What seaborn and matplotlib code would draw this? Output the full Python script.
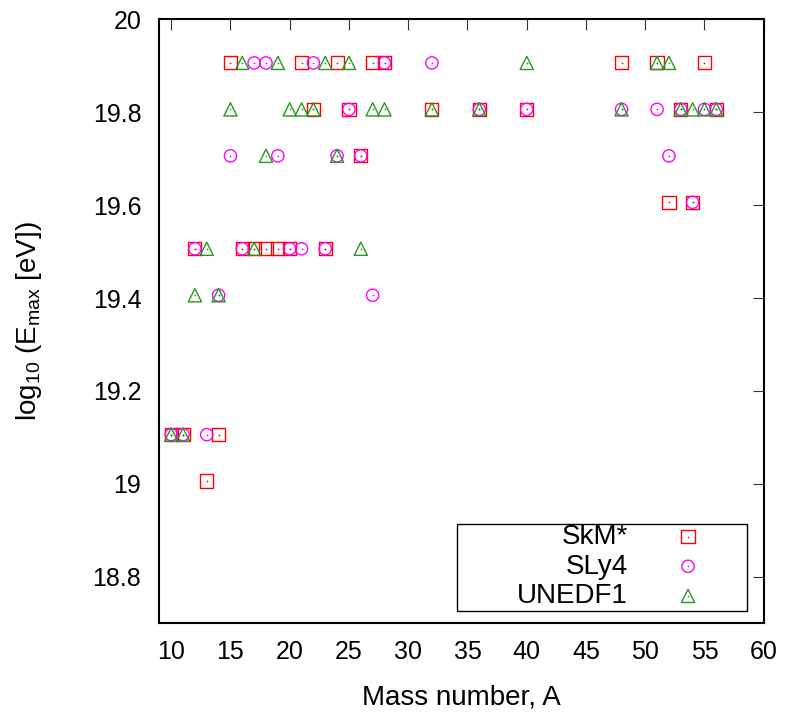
import matplotlib
matplotlib.use("Agg")
import matplotlib.pyplot as plt
import matplotlib.patches as patches
from matplotlib.ticker import FuncFormatter
from matplotlib.legend_handler import HandlerTuple
import pandas as pd
import seaborn as sns

# mass numbers and log10(Emax) for the three Skyrme forces
mass_A = [10, 11, 12, 13, 14, 15, 16, 17, 18, 19, 20, 21, 22, 23, 24, 25, 26, 27, 28,
          32, 36, 40, 48, 51, 52, 53, 54, 55, 56]
skm = [19.106, 19.106, 19.506, 19.006, 19.106, 19.906, 19.506, 19.506, 19.506, 19.506,
       19.506, 19.906, 19.806, 19.506, 19.906, 19.806, 19.706, 19.906, 19.906, 19.806,
       19.806, 19.806, 19.906, 19.906, 19.606, 19.806, 19.606, 19.906, 19.806]
sly4 = [19.106, 19.106, 19.506, 19.106, 19.406, 19.706, 19.506, 19.906, 19.906, 19.706,
        19.506, 19.506, 19.906, 19.506, 19.706, 19.806, 19.706, 19.406, 19.906, 19.906,
        19.806, 19.806, 19.806, 19.806, 19.706, 19.806, 19.606, 19.806, 19.806]
unedf1 = [19.106, 19.106, 19.406, 19.506, 19.406, 19.806, 19.906, 19.506, 19.706, 19.906,
          19.806, 19.806, 19.806, 19.906, 19.706, 19.906, 19.506, 19.806, 19.806, 19.806,
          19.806, 19.906, 19.806, 19.906, 19.906, 19.806, 19.806, 19.806, 19.806]

series_names = ["SkM*", "SLy4", "UNEDF1"]
colors = ["#ff0000", "#ff00ff", "#229922"]
markers = ["s", "o", "^"]
sizes = [90, 78, 90]

df = pd.DataFrame({"A": mass_A * 3,
                   "E": skm + sly4 + unedf1,
                   "model": sum([[n] * len(mass_A) for n in series_names], [])})

sns.set_style("white")
plt.rcParams["font.family"] = ["Liberation Sans", "DejaVu Sans"]
plt.rcParams["mathtext.fontset"] = "custom"
plt.rcParams["mathtext.rm"] = "Liberation Sans"
for k in ["text.color", "axes.labelcolor", "xtick.labelcolor", "ytick.labelcolor"]:
    plt.rcParams[k] = "black"

fig = plt.figure(figsize=(7.88, 7.15), dpi=100)
ax = fig.add_axes([0.2022, 0.1283, 0.767, 0.8448])

handles = []
for name, col, mk, sz in zip(series_names, colors, markers, sizes):
    d = df[df["model"] == name]
    sns.scatterplot(data=d, x="A", y="E", marker=mk, s=sz, facecolor="none",
                    edgecolor=col, linewidth=1.0, ax=ax, zorder=3)
    h_open = ax.collections[-1]
    sns.scatterplot(data=d, x="A", y="E", marker="o", s=1.5, color=col,
                    edgecolor=col, linewidth=0, ax=ax, zorder=4)
    h_dot = ax.collections[-1]
    handles.append((h_open, h_dot))

ax.set_xlim(9, 60)
ax.set_ylim(18.7, 20)
ax.set_xticks(range(10, 61, 5))
ax.set_yticks([18.8, 19.0, 19.2, 19.4, 19.6, 19.8, 20.0])
ax.yaxis.set_major_formatter(FuncFormatter(lambda v, p: "%g" % round(v, 2)))

ax.tick_params(direction="in", length=8, width=0.8, color="#333333",
               top=True, right=True, labelsize=18)
ax.tick_params(axis="y", pad=13)
ax.tick_params(axis="x", pad=12)
for sp in ax.spines.values():
    sp.set_visible(True)
    sp.set_color("black")
    sp.set_linewidth(1.5)

ax.set_xlabel("Mass number, A", fontsize=20)
ax.set_ylabel(r"log$_{\mathregular{10}}$ (E$_{\mathregular{max}}$ [eV])", fontsize=20)
ax.xaxis.set_label_coords(0.5, -0.1006)
ax.yaxis.set_label_coords(-0.191, 0.5)

leg = ax.legend(handles, series_names, handler_map={tuple: HandlerTuple(ndivide=1)},
                loc="upper right", bbox_to_anchor=(0.9207, 0.1644), borderaxespad=0,
                borderpad=0, frameon=False, markerfirst=False, fontsize=20,
                handlelength=2, handletextpad=1.16, labelspacing=0.13)

ax.add_patch(patches.Rectangle((0.4926, 0.0204), 0.4794, 0.1436, transform=ax.transAxes,
                               fill=False, edgecolor="black", linewidth=1.0,
                               zorder=5, clip_on=False))

fig.savefig("out.png", dpi=100)
